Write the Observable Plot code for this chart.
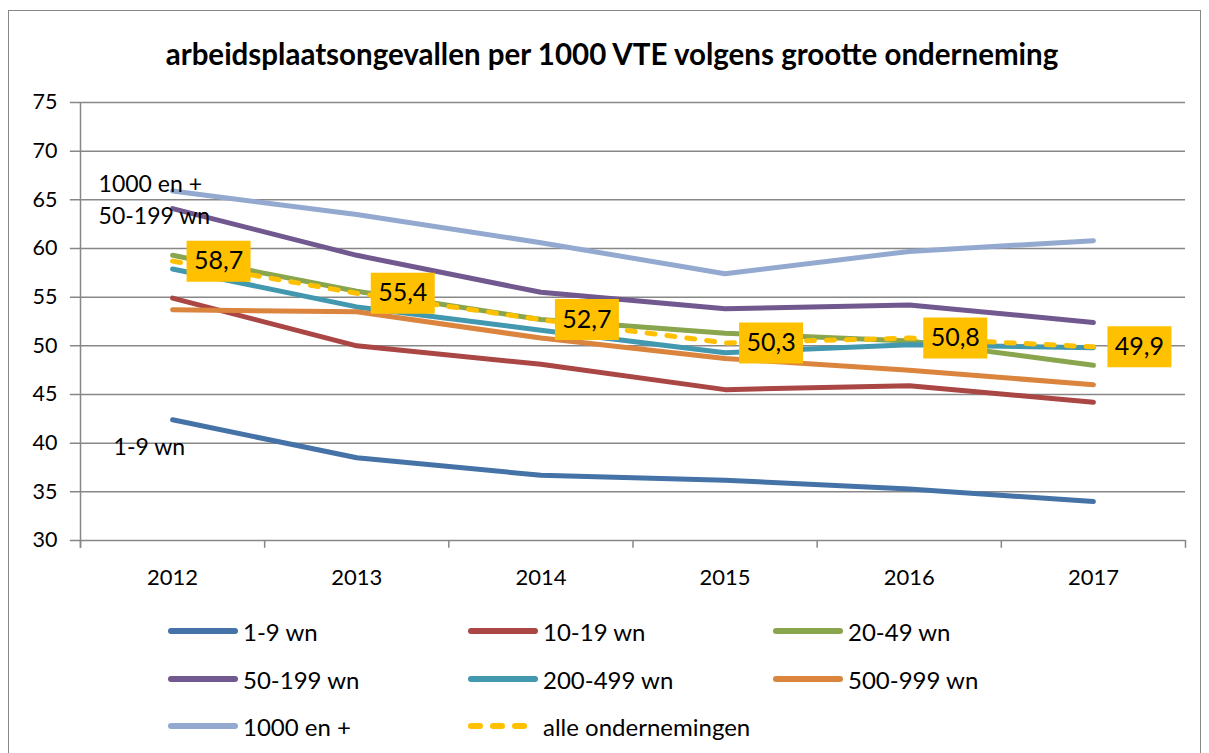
<!DOCTYPE html>
<html><head><meta charset="utf-8">
<script src="https://cdn.jsdelivr.net/npm/d3@7"></script>
<script src="https://cdn.jsdelivr.net/npm/@observablehq/plot@0.6"></script>
<style>
body{margin:0;background:#fff;font-family:Lato,sans-serif;color:#000;}
#frame{position:absolute;left:8px;top:10px;width:1193px;height:760px;border:1.5px solid #878787;box-sizing:border-box;}
#title{position:absolute;left:0;width:1224px;top:36px;text-align:center;font-weight:bold;font-size:29.5px;line-height:36px;}
#chart{position:absolute;left:0;top:0;}
.li{position:absolute;display:flex;align-items:center;font-size:24px;height:30px;}
.li svg{margin-right:5px;}
</style></head><body>
<div id="frame"></div>
<div id="chart"></div>
<div id="title">arbeidsplaatsongevallen per 1000 VTE volgens grootte onderneming</div>
<div id="legend"></div>
<script>
// ---- data ----
const years = [2012, 2013, 2014, 2015, 2016, 2017];
const yTicks = [30, 35, 40, 45, 50, 55, 60, 65, 70, 75];
const names = ["1-9 wn", "10-19 wn", "20-49 wn", "50-199 wn", "200-499 wn", "500-999 wn", "1000 en +", "alle ondernemingen"];
const colors = ["#4572A7", "#AA4643", "#89A54E", "#71588F", "#4198AF", "#DB843D", "#93A9CF", "#FFC000"];
const v1_9     = [42.4, 38.5, 36.7, 36.2, 35.3, 34.0];
const v10_19   = [54.9, 50.0, 48.1, 45.5, 45.9, 44.2];
const v20_49   = [59.3, 55.6, 52.7, 51.3, 50.5, 48.0];
const v50_199  = [64.1, 59.3, 55.5, 53.8, 54.2, 52.4];
const v200_499 = [57.9, 54.0, 51.6, 49.3, 50.1, 49.8];
const v500_999 = [53.7, 53.5, 50.8, 48.7, 47.5, 46.0];
const v1000    = [65.9, 63.5, 60.6, 57.4, 59.7, 60.8];
const vAlle    = [58.7, 55.4, 52.7, 50.3, 50.8, 49.9];

const seriesValues = [v1_9, v10_19, v20_49, v50_199, v200_499, v500_999, v1000, vAlle];
const table = seriesValues.flatMap((vals, i) => years.map((yr, j) => ({series: names[i], year: yr, value: vals[j]})));
const solid = table.filter(d => d.series !== "alle ondernemingen");
const alle = table.filter(d => d.series === "alle ondernemingen");
const first = name => table.filter(d => d.series === name && d.year === years[0]);
const boundaries = [...years.map(y => y - 0.5), years[years.length - 1] + 0.5];
const fmt = v => v.toFixed(1).replace(".", ",");
const gridColor = "#878787";
const box = {draw(ctx) { ctx.rect(-32, -20.5, 64, 41); }};

const chart = Plot.plot({
  width: 1209, height: 600,
  marginLeft: 80, marginRight: 24, marginTop: 102, marginBottom: 60,
  style: {background: "none", fontFamily: "Lato, sans-serif", overflow: "visible"},
  x: {domain: [boundaries[0], boundaries[boundaries.length - 1]], axis: null},
  y: {domain: [yTicks[0], yTicks[yTicks.length - 1]], axis: null},
  color: {domain: names, range: colors},
  marks: [
    Plot.ruleY(yTicks, {x1: boundaries[0] - 0.055, x2: boundaries[boundaries.length - 1], stroke: gridColor, strokeWidth: 1.5}),
    Plot.ruleX(boundaries, {y1: yTicks[0] - 0.8, y2: yTicks[0], stroke: gridColor, strokeWidth: 1.5}),
    Plot.ruleX([boundaries[0]], {y1: yTicks[0] - 0.8, y2: yTicks[yTicks.length - 1], stroke: gridColor, strokeWidth: 1.5}),
    Plot.line(solid, {x: "year", y: "value", z: "series", stroke: "series", strokeWidth: 5, strokeLinecap: "round", strokeLinejoin: "round"}),
    Plot.line(alle, {x: "year", y: "value", stroke: "series", strokeWidth: 5, strokeLinecap: "round", strokeDasharray: "8,12"}),
    Plot.text(yTicks, {x: boundaries[0], y: d => d, text: d => String(d), dx: -23, textAnchor: "end", fontSize: 21.5}),
    Plot.text(years, {x: d => d, y: yTicks[0], text: d => String(d), dy: 37, fontSize: 22}),
    Plot.text(first("1000 en +"), {x: "year", y: "value", text: "series", dx: -74, dy: -6, textAnchor: "start", fontSize: 23}),
    Plot.text(first("50-199 wn"), {x: "year", y: "value", text: "series", dx: -74, dy: 8, textAnchor: "start", fontSize: 23}),
    Plot.text(first("1-9 wn"), {x: "year", y: "value", text: "series", dx: -59, dy: 28, textAnchor: "start", fontSize: 23}),
    Plot.dot(alle, {x: "year", y: "value", symbol: box, r: 5, fill: "#FFC000", dx: 46}),
    Plot.text(alle, {x: "year", y: "value", text: d => fmt(d.value), dx: 46, fontSize: 25, fill: "#000"})
  ]
});
document.getElementById("chart").appendChild(chart);

// ---- legend ----
const legend = document.getElementById("legend");
const colX = [168, 468, 773];
const rowY = [631, 679, 726];
names.forEach((n, i) => {
  const el = document.createElement("div");
  el.className = "li";
  el.style.left = colX[i % 3] + "px";
  el.style.top = (rowY[Math.floor(i / 3)] - 15) + "px";
  const dashed = n === "alle ondernemingen";
  el.innerHTML = `<svg width="70" height="10"><line x1="3" y1="5" x2="67" y2="5" stroke="${colors[i]}" stroke-width="6" stroke-linecap="round" ${dashed ? 'stroke-dasharray="9,13"' : ''}/></svg><span>${n}</span>`;
  legend.appendChild(el);
});
</script>
</body></html>
